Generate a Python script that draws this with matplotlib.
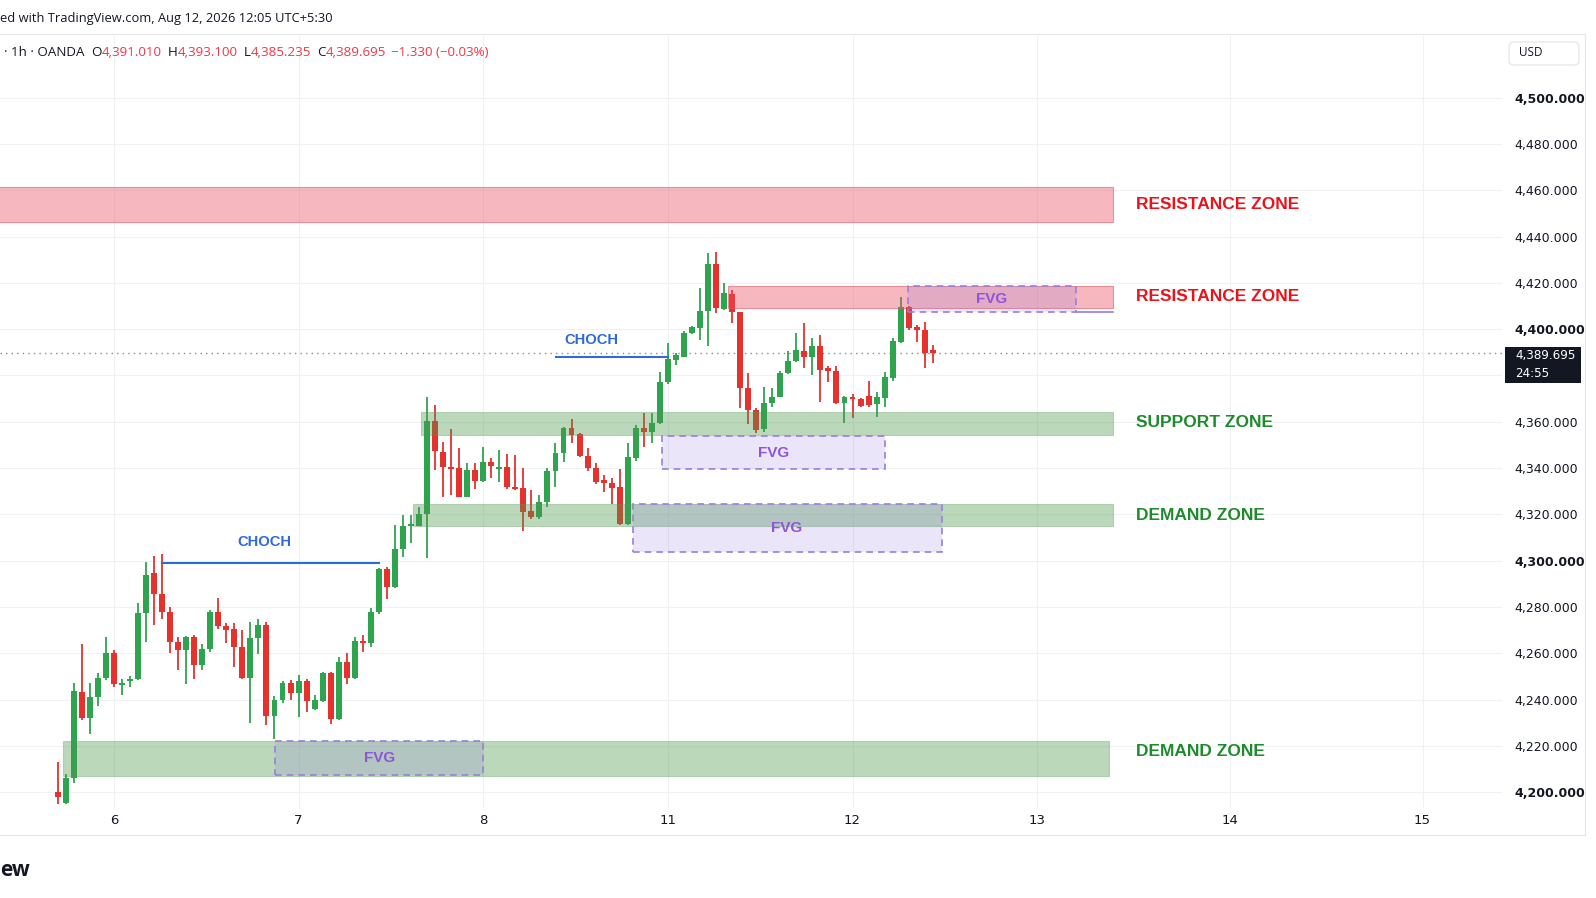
import matplotlib
matplotlib.use('Agg')
import matplotlib.pyplot as plt
from matplotlib.patches import Rectangle, FancyBboxPatch

# XAUUSD 1h candles
opens = [4200, 4195.5, 4206, 4243.4, 4232, 4241, 4249.5, 4260, 4246.2, 4248,
         4249, 4277.5, 4294.5, 4285.5, 4278, 4265, 4261.5, 4267, 4255, 4262,
         4278, 4271.7, 4270.3, 4262.5, 4249.5, 4266.4, 4272, 4233, 4240, 4247,
         4242.7, 4248, 4235.8, 4239.5, 4251.6, 4231.6, 4256, 4249.4, 4265.4, 4264.3,
         4277.7, 4296.2, 4288.7, 4304.9, 4315.1, 4315.1, 4320, 4360.5, 4347.1, 4340.6,
         4339.9, 4327.6, 4339.2, 4334.5, 4342.8, 4339.4, 4340.6, 4331.7, 4331.2, 4321.6,
         4318.7, 4325.2, 4338.9, 4346.4, 4357.2, 4354.7, 4345.2, 4339.9, 4334.8, 4333.7,
         4331.7, 4315.8, 4344.2, 4357.2, 4355.4, 4359.3, 4377, 4386.7, 4388.1, 4398.5,
         4400.6, 4408, 4428.2, 4408.7, 4415.2, 4407.3, 4374.4, 4365.1, 4356.8, 4368,
         4370.8, 4380.9, 4386.4, 4390.7, 4387.8, 4392.7, 4383.1, 4382.1, 4368, 4370.5,
         4369.7, 4371.3, 4367.7, 4370.4, 4378.8, 4394.6, 4409.4, 4400.8, 4399.6, 4391.01]
highs = [4213, 4208, 4247, 4264, 4247, 4251.5, 4267, 4261.5, 4249, 4250,
         4281.5, 4299.5, 4302, 4303, 4280, 4267, 4267.4, 4268, 4264, 4278.6,
         4284, 4273, 4273, 4270, 4273.6, 4274.6, 4273.6, 4241.5, 4248, 4248.4,
         4250.6, 4248.7, 4242, 4252, 4252, 4258.5, 4260.2, 4267, 4267.9, 4279.4,
         4297, 4297.4, 4315.4, 4319.7, 4319.7, 4323.3, 4370.8, 4367.2, 4351.4, 4356.7,
         4348.6, 4342.3, 4342.3, 4348.9, 4344.2, 4348, 4346, 4345.6, 4339.9, 4330.5,
         4328.4, 4339.9, 4350.7, 4357.9, 4361, 4355.2, 4348.5, 4342, 4337, 4335.6,
         4339.4, 4351, 4358.6, 4363.6, 4363.9, 4381.3, 4394.2, 4389.5, 4399.4, 4401.5,
         4417.6, 4432.8, 4433.5, 4420.1, 4417, 4407.6, 4380.9, 4366, 4375.2, 4374.4,
         4381.9, 4390.7, 4398.5, 4402.8, 4396, 4397.5, 4384.1, 4384.1, 4371.1, 4372,
         4370.2, 4377.8, 4373, 4381.6, 4396, 4413.7, 4410, 4402, 4403.2, 4393.1]
lows = [4195, 4195, 4204, 4231, 4225, 4237, 4248.5, 4245.5, 4242, 4245.6,
        4248.5, 4265, 4272, 4275, 4260, 4252.7, 4246.5, 4249, 4252.7, 4260.7,
        4270.3, 4264.6, 4254, 4249, 4229.7, 4259.7, 4229, 4223, 4238.6, 4240,
        4232.6, 4234.8, 4235.5, 4239, 4229.3, 4231, 4246.7, 4249, 4260.6, 4262.8,
        4277, 4283.3, 4288, 4301.7, 4307.5, 4315, 4301, 4339.2, 4327.4, 4328.4,
        4327.4, 4327.3, 4330.8, 4334, 4335.5, 4334, 4331, 4330.5, 4313, 4318,
        4318, 4323.3, 4331.7, 4342.5, 4350.7, 4344.9, 4338.9, 4333.1, 4329.8, 4324.5,
        4315.4, 4315.4, 4343.2, 4349, 4350.7, 4359, 4376.5, 4384.5, 4387.8, 4398,
        4395.3, 4392.7, 4406.8, 4408.2, 4402.5, 4365.8, 4359, 4355, 4355.5, 4366.5,
        4370.5, 4380.5, 4386, 4383.4, 4380.2, 4368.4, 4377.3, 4367.7, 4359.6, 4361.5,
        4366.5, 4366.5, 4362.2, 4366.5, 4377.8, 4393.9, 4399.6, 4394.6, 4383.1, 4385.235]
closes = [4198, 4206, 4243.5, 4232, 4241, 4249.5, 4260, 4246.5, 4247, 4248.5,
          4277.5, 4294, 4285.5, 4278, 4265, 4261.4, 4267, 4255, 4262, 4278,
          4271.7, 4270, 4262.5, 4249.5, 4266.4, 4272, 4233, 4240, 4247, 4242.7,
          4248, 4239.4, 4239.8, 4251.6, 4231.7, 4256, 4249.4, 4265.4, 4264.3, 4277.7,
          4296.2, 4288.7, 4304.9, 4315.1, 4315.8, 4320.1, 4360.5, 4347.4, 4340.3, 4339.6,
          4327.6, 4339.2, 4334.5, 4342.8, 4340.9, 4340.6, 4331.7, 4330.8, 4321.2, 4318.7,
          4325.2, 4338.9, 4346.4, 4357.2, 4354.3, 4345.2, 4339.9, 4334.1, 4333.4, 4331.2,
          4315.8, 4344.6, 4357.2, 4355.4, 4359.3, 4377.3, 4387, 4388.9, 4398.5, 4400.8,
          4408, 4428.2, 4409, 4415.5, 4407.6, 4374.4, 4365.1, 4356.5, 4368.2, 4370.8,
          4381.2, 4386.4, 4391, 4387.8, 4392.7, 4382.4, 4382.1, 4368, 4370.5, 4369.7,
          4367, 4367.2, 4370.5, 4379.2, 4395, 4409.4, 4400.4, 4399.6, 4389.6, 4389.695]

day_pos = [7, 30, 53, 76, 99, 122, 146, 170]
day_labels = ['6', '7', '8', '11', '12', '13', '14', '15']
price_ticks = [4200 + 20 * k for k in range(16)]
last_price = 4389.695

# zones: (start, end, low, high)
resistance = [(-8, 131.5, 4446.3, 4461.3), (83.5, 131.5, 4409.2, 4418.8)]
support = [(45.3, 131.5, 4354.3, 4364.1)]
demand = [(44.3, 131.5, 4315.1, 4324.5), (0.7, 130.9, 4206.8, 4222.2)]
fvg = [(27.1, 53.0, 4207.4, 4222.1), (71.6, 110.1, 4303.8, 4324.5),
       (75.3, 103.1, 4339.4, 4353.9), (105.9, 126.8, 4407.6, 4418.6)]
choch = [(12.95, 40, 4299.2), (62.1, 76, 4387.8)]
choch_text = [(25.8, 4308.2), (66.5, 4395.3)]
zone_names = ['RESISTANCE ZONE', 'RESISTANCE ZONE', 'SUPPORT ZONE', 'DEMAND ZONE', 'DEMAND ZONE']
zone_name_y = [4454, 4414, 4359.5, 4319.5, 4217.5]

GREEN = '#2ea44f'
RED = '#e5322d'
DARK = '#131722'

fig = plt.figure(figsize=(15.96, 8.98), dpi=100)
fig.patch.set_facecolor('white')
ax = fig.add_axes([0, 1 - 808 / 898, 1502 / 1596, 772 / 898])
ax.set_xlim(-7.19, 179.9)
ax.set_ylim(4193.14, 4526.66)

# candles
for i, (o, h, l, c) in enumerate(zip(opens, highs, lows, closes)):
    col = GREEN if c >= o else RED
    ax.vlines(i, l, h, color=col, lw=1.3, zorder=2)
    ax.bar(i, max(abs(c - o), 0.7), bottom=min(o, c), width=0.74, color=col, zorder=2.5)

for x0, x1, y0, y1 in resistance:
    ax.add_patch(Rectangle((x0, y0), x1 - x0, y1 - y0, fc=(0.93, 0.30, 0.38, 0.40),
                           ec=(0.88, 0.35, 0.42, 0.6), lw=0.8, zorder=3))
for x0, x1, y0, y1 in support + demand:
    ax.add_patch(Rectangle((x0, y0), x1 - x0, y1 - y0, fc=(0.30, 0.60, 0.30, 0.38),
                           ec=(0.35, 0.6, 0.35, 0.35), lw=0.8, zorder=3))
for x0, x1, y0, y1 in fvg:
    ax.add_patch(Rectangle((x0, y0), x1 - x0, y1 - y0, fc=(0.55, 0.45, 0.85, 0.18),
                           ec='#9a7fdc', lw=1.2, ls=(0, (4, 3)), zorder=4))
    ax.text((x0 + x1) / 2, (y0 + y1) / 2, 'FVG', color='#8e55d8', fontsize=11,
            fontweight='bold', family='Liberation Sans', ha='center', va='center', zorder=5)
# extra line under top fvg
ax.plot([126.8, 131.5], [4407.6, 4407.6], color='#9a7fdc', lw=1.2, zorder=4)

for (x0, x1, y), (tx, ty) in zip(choch, choch_text):
    ax.plot([x0, x1], [y, y], color='#2f6bd8', lw=1.5, zorder=4)
    ax.text(tx, ty, 'CHOCH', color='#2f6bd8', fontsize=10.6, fontweight='bold',
            family='Liberation Sans', ha='center', va='center', zorder=5)

for name, y in zip(zone_names, zone_name_y):
    col = '#e8141c' if name.startswith('RES') else '#1f8b2c'
    ax.text(134.3, y, name, color=col, fontsize=12.5, fontweight='bold',
            family='Liberation Sans', ha='left', va='center', zorder=5)

ax.axhline(last_price, color='#8a8a8a', lw=1, ls=(0, (1, 3)), zorder=1)

ax.set_xticks(day_pos, day_labels)
# the 4,380 label sits under the last-price tag, so it is left blank
ax.set_yticks(price_ticks, ['' if p == 4380 else '{:,.3f}'.format(p) for p in price_ticks])
ax.yaxis.tick_right()
ax.tick_params(axis='y', length=0, pad=9, labelsize=9, labelcolor=DARK)
ax.tick_params(axis='x', length=0, pad=4, labelsize=9.5, labelcolor=DARK)
for lab, p in zip(ax.get_yticklabels(), price_ticks):
    if p % 100 == 0:
        lab.set_fontweight('bold')
ax.grid(True, color='#eff1f4', lw=0.8, zorder=0)
for s in ax.spines.values():
    s.set_visible(False)

# frame lines
fig.add_artist(plt.Line2D([0, 1585 / 1596], [1 - 34 / 898] * 2, color='#e6e6e6', lw=0.8))
fig.add_artist(plt.Line2D([0, 1585 / 1596], [1 - 835 / 898] * 2, color='#e6e6e6', lw=0.8))
fig.add_artist(plt.Line2D([1585 / 1596] * 2, [1 - 34 / 898, 1 - 835 / 898], color='#e6e6e6', lw=0.8))

# price tag
fig.add_artist(Rectangle((1505 / 1596, 1 - 383 / 898), 76 / 1596, 36 / 898,
                         transform=fig.transFigure, fc='#131722', ec='none'))
fig.text(1515 / 1596, 1 - 356 / 898, '4,389.695', color='white', fontsize=8.6, va='center')
fig.text(1515 / 1596, 1 - 374 / 898, '24:55', color='white', fontsize=8.6, va='center')

# USD box
fig.add_artist(FancyBboxPatch((1509 / 1596, 1 - 65 / 898), 70 / 1596, 23 / 898,
                              boxstyle='round,pad=0,rounding_size=0.004',
                              transform=fig.transFigure, fc='white', ec='#e0e3eb', lw=0.8))
fig.text(1519 / 1596, 1 - 53 / 898, 'USD', color=DARK, fontsize=8.5, va='center',
         family='Open Sans')

# header texts
fig.text(0, 1 - 18.5 / 898, 'ed with TradingView.com, Aug 12, 2026 12:05 UTC+5:30',
         color=DARK, fontsize=9.3, va='center', family='Open Sans')
fig.text(0, 1 - 870 / 898, 'ew', color=DARK, fontsize=15, fontweight='bold',
         va='center', family='Open Sans')

fig.canvas.draw()
r = fig.canvas.get_renderer()
parts = [('· 1h · OANDA', DARK, 7), ('O', DARK, 0), ('4,391.010', '#f23645', 6),
         ('H', DARK, 0), ('4,393.100', '#f23645', 6), ('L', DARK, 0),
         ('4,385.235', '#f23645', 6), ('C', DARK, 0), ('4,389.695', '#f23645', 5),
         ('−1.330 (−0.03%)', '#f23645', 0)]
x = 4
for s, col, gap in parts:
    t = fig.text(x / 1596, 1 - 52 / 898, s, color=col, fontsize=9.6, va='center',
                 family='Open Sans')
    x = t.get_window_extent(r).x1 + gap

fig.savefig('out.png', dpi=100, facecolor='white')
